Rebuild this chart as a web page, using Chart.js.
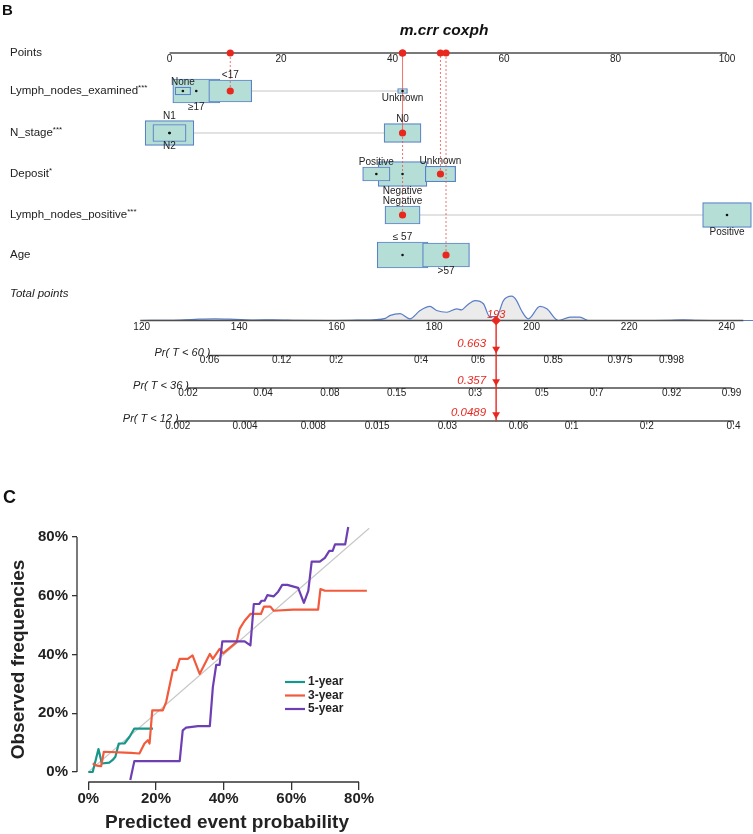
<!DOCTYPE html>
<html>
<head>
<meta charset="utf-8">
<script src="https://cdn.jsdelivr.net/npm/chart.js@4.4.0/dist/chart.umd.min.js"></script>
<style>
  html, body { margin: 0; padding: 0; background: #fff; }
  #wrap { position: relative; width: 753px; height: 834px; }
  .box { position: absolute; left: 0; }
</style>
</head>
<body>
<div id="wrap">
  <div class="box" style="top:0;width:753px;height:445px"><canvas id="nomoChart"></canvas></div>
  <div class="box" style="top:445px;width:380px;height:389px"><canvas id="calibChart"></canvas></div>
</div>
<script>
const FONT = "'Liberation Sans', Arial, Helvetica, sans-serif";
Chart.defaults.font.family = FONT;
Chart.defaults.color = '#222';

// ---------- panel B: nomogram values ----------
const pointsTicks = [0, 20, 40, 60, 80, 100];

const varNames = ['Lymph_nodes_examined', 'N_stage', 'Deposit', 'Lymph_nodes_positive', 'Age'];
const varStars = ['***', '***', '*', '***', ''];

const lneLevels = ['None', '≥17', '<17', 'Unknown'];
const lnePoints = [2.4, 4.8, 10.9, 41.8];
const lneShare = [0.055, 0.50, 0.42, 0.022];

const nLevels = ['N1', 'N2', 'N0'];
const nPoints = [0, 0, 41.8];
const nShare = [0.54, 0.25, 0.31];

const depLevels = ['Positive', 'Negative', 'Unknown'];
const depPoints = [37.1, 41.8, 48.6];
const depShare = [0.17, 0.54, 0.21];

const lnpLevels = ['Negative', 'Positive'];
const lnpPoints = [41.8, 100];
const lnpShare = [0.28, 0.54];

const ageLevels = ['≤ 57', '>57'];
const agePoints = [41.8, 49.6];
const ageShare = [0.585, 0.50];

// the patient marked in red
const chosenLevels = ['<17', 'N0', 'Unknown', 'Negative', '>57'];

const totalTicks = [120, 140, 160, 180, 200, 220, 240];
const totalSpan = [119.7, 243.4];
const densityX = [120, 126, 131, 135, 139, 143, 147, 152, 158, 163, 167.5, 170, 171, 173, 175, 177.1, 179.1, 180.5, 182.6, 184.6, 185.6, 186.7, 188.4, 190.1, 191.4, 192.8, 194.2, 195.9, 196.9, 197.9, 199.3, 201.7, 203.1, 205.5, 207.9, 209.9, 211.6, 216, 222, 228, 231, 234, 240, 246];
const densityY = [0, 0.01, 0.05, 0.07, 0.05, 0.02, 0.03, 0.01, 0, 0.01, 0.03, 0.09, 0.21, 0.28, 0.07, 0.41, 0.58, 0.41, 0.34, 0.48, 0.44, 0.62, 0.82, 0.69, 0.16, 0.16, 0.82, 1.0, 0.82, 0.41, 0.07, 0.58, 0.48, 0, 0.14, 0.14, 0, 0, 0, 0.01, 0.03, 0.01, 0, 0];

const prNames = ['Pr( T < 60 )', 'Pr( T < 36 )', 'Pr( T < 12 )'];
const pr60Labels = ['0.06', '0.12', '0.2', '0.4', '0.6', '0.85', '0.975', '0.998'];
const pr60At = [133.9, 148.7, 159.9, 177.3, 189.0, 204.4, 218.1, 228.7];
const pr36Labels = ['0.02', '0.04', '0.08', '0.15', '0.3', '0.5', '0.7', '0.92', '0.99'];
const pr36At = [129.5, 144.9, 158.6, 172.3, 188.4, 202.1, 213.3, 228.7, 241.0];
const pr12Labels = ['0.002', '0.004', '0.008', '0.015', '0.03', '0.06', '0.1', '0.2', '0.4'];
const pr12At = [127.4, 141.2, 155.2, 168.3, 182.7, 197.3, 208.2, 223.6, 241.4];
const predProb = ['0.663', '0.357', '0.0489'];

// ---------- panel C: calibration values (percent) ----------
const calTicks = [0, 20, 40, 60, 80];
const diagX = [0, 83];
const diagY = [0, 83];
const oneYearX = [0, 1.3, 3.0, 4.0, 6.2, 7.2, 8.0, 9.0, 10.7, 12.2, 13.6, 19.1];
const oneYearY = [0, 0, 7.8, 2.9, 3.2, 4.1, 5.2, 9.7, 9.7, 12.0, 14.8, 14.8];
const threeYearX = [1.3, 2.5, 3.8, 4.6, 12.6, 15.1, 16.6, 17.6, 18.1, 18.9, 22.0, 23.0, 25.0, 26.0, 27.0, 29.4, 30.8, 32.9, 35.9, 36.8, 38.8, 39.8, 43.8, 44.7, 46.2, 47.9, 51.0, 51.9, 53.8, 54.8, 60.5, 67.9, 68.6, 69.9, 82.3];
const threeYearY = [2.9, 2.2, 2.0, 6.9, 6.5, 6.3, 9.7, 10.8, 9.7, 21.0, 21.0, 23.8, 34.7, 34.7, 38.5, 38.5, 39.7, 33.4, 40.2, 38.5, 41.9, 40.4, 44.2, 48.7, 51.5, 53.8, 53.8, 56.3, 56.3, 54.9, 55.3, 55.3, 62.3, 61.7, 61.7];
const fiveYearX = [12.4, 13.6, 27.0, 27.9, 28.9, 32.4, 35.9, 36.8, 37.8, 38.8, 39.6, 46.2, 47.9, 48.9, 50.5, 51.2, 52.1, 52.9, 54.8, 56.1, 57.3, 58.8, 62.0, 63.7, 65.0, 66.0, 68.4, 69.9, 71.2, 72.2, 72.9, 75.9, 76.8];
const fiveYearY = [-2.7, 3.7, 3.7, 14.2, 15.1, 15.6, 15.6, 28.9, 36.5, 36.5, 44.5, 44.5, 43.1, 57.2, 57.2, 58.3, 58.3, 60.2, 59.8, 61.4, 63.7, 63.7, 62.7, 57.6, 61.7, 71.6, 71.6, 72.9, 75.3, 75.3, 77.5, 77.5, 83.4];
const seriesNames = ['1-year', '3-year', '5-year'];

// ---------- layout ----------
const B_W = 753, B_H = 445;
const PT_ZERO_PX = 169.5, PX_PER_PT = 5.575;
const TOT_120_PX = 141.7, PX_PER_TOT = 4.875;
const ROW_Y = { title: 31, points: 53, vars: [91, 133, 174, 215, 255], totalLabel: 294, total: 320.5, pr: [355.5, 388, 421] };
const PROB_DY = [-12, -7.5, -8.5];
const DENS_PX = 24.3;
const BOX_K = 34, BOX_ASPECT = 1.95;
const RED = '#e8281f';

const variables = [
    { levels: lneLevels, pts: lnePoints, share: lneShare },
    { levels: nLevels, pts: nPoints, share: nShare },
    { levels: depLevels, pts: depPoints, share: depShare },
    { levels: lnpLevels, pts: lnpPoints, share: lnpShare },
    { levels: ageLevels, pts: agePoints, share: ageShare }
];
const prAxes = [
    { at: pr60At, labels: pr60Labels },
    { at: pr36At, labels: pr36Labels },
    { at: pr12At, labels: pr12Labels }
];

const chosenPoints = variables.map((v, i) => v.pts[v.levels.indexOf(chosenLevels[i])]);
const totalScore = chosenPoints.reduce((a, b) => a + b, 0);

// datasets in painting order (first = bottom)
const paint = [];
paint.push({
    type: 'line', xAxisID: 'xt', yAxisID: 'yd',
    data: densityX.map((x, i) => ({ x, y: densityY[i] })),
    borderColor: '#5b7ec8', borderWidth: 1.2, backgroundColor: '#ebebeb',
    fill: 'origin', pointRadius: 0, cubicInterpolationMode: 'monotone'
});
variables.forEach((v, i) => {
    paint.push({
        type: 'line', xAxisID: 'x', yAxisID: 'y',
        data: [{ x: Math.min(...v.pts), y: ROW_Y.vars[i] }, { x: Math.max(...v.pts), y: ROW_Y.vars[i] }],
        borderColor: '#d9d9d9', borderWidth: 1.5, pointRadius: 0
    });
});
variables.forEach((v, i) => {
    const idx = v.levels.map((_, j) => j).sort((a, b) => v.share[b] - v.share[a]);
    idx.forEach(j => {
        const h = BOX_K * Math.sqrt(v.share[j]);
        const half = h * BOX_ASPECT / 2 / PX_PER_PT;
        paint.push({
            type: 'bar', indexAxis: 'y', grouped: false, xAxisID: 'x', yAxisID: 'y',
            data: [{ x: [v.pts[j] - half, v.pts[j] + half], y: ROW_Y.vars[i] }],
            barThickness: h, backgroundColor: '#b5dfd6', borderColor: '#5a80c8',
            borderWidth: 1.2, borderSkipped: false
        });
    });
});
chosenPoints.forEach((p, i) => {
    paint.push({
        type: 'line', xAxisID: 'x', yAxisID: 'y',
        data: [{ x: p, y: ROW_Y.vars[i] }, { x: p, y: ROW_Y.points }],
        borderColor: 'rgba(236,80,70,0.8)', borderWidth: 1, borderDash: [2, 2], pointRadius: 0
    });
});
const blackDots = [];
variables.forEach((v, i) => {
    v.levels.forEach((lv, j) => {
        if (lv !== chosenLevels[i]) blackDots.push({ x: v.pts[j], y: ROW_Y.vars[i] });
    });
});
paint.push({
    type: 'scatter', xAxisID: 'x', yAxisID: 'y', data: blackDots,
    pointRadius: 1.3, pointBackgroundColor: '#111', pointBorderWidth: 0
});
paint.push({
    type: 'scatter', xAxisID: 'x', yAxisID: 'y',
    data: chosenPoints.map((p, i) => ({ x: p, y: ROW_Y.vars[i] })).concat(chosenPoints.map(p => ({ x: p, y: ROW_Y.points }))),
    pointRadius: 3.6, pointBackgroundColor: RED, pointBorderWidth: 0
});
paint.push({
    type: 'line', xAxisID: 'xt', yAxisID: 'y',
    data: [{ x: totalScore, y: ROW_Y.total }, { x: totalScore, y: ROW_Y.pr[2] }],
    borderColor: RED, borderWidth: 1.4, pointRadius: 0
});
paint.push({
    type: 'scatter', xAxisID: 'xt', yAxisID: 'y',
    data: ROW_Y.pr.map(y => ({ x: totalScore, y: y - 6.5 })),
    pointStyle: 'triangle', pointRotation: 180, pointRadius: 4.5,
    pointBackgroundColor: RED, pointBorderWidth: 0
});
paint.push({
    type: 'scatter', xAxisID: 'xt', yAxisID: 'y',
    data: [{ x: totalScore, y: ROW_Y.total }],
    pointStyle: 'rectRot', pointRadius: 4.8, pointBackgroundColor: RED, pointBorderWidth: 0
});
paint.forEach((d, i) => { d.order = paint.length - i; });

function axisLine(ctx, x1, x2, y) {
    ctx.strokeStyle = '#4d4d4d';
    ctx.lineWidth = 1.4;
    ctx.beginPath();
    ctx.moveTo(x1, y);
    ctx.lineTo(x2, y);
    ctx.stroke();
}

const nomoDecor = {
    id: 'nomoDecor',
    beforeDatasetsDraw(chart) {
        const { ctx, scales: { x, xt, y } } = chart;
        ctx.save();
        ctx.fillStyle = '#111';
        ctx.textBaseline = 'middle';
        ctx.textAlign = 'left';
        ctx.font = 'bold 15px ' + FONT;
        ctx.fillText('B', 2, 11);
        ctx.textAlign = 'center';
        ctx.font = 'italic bold 15.5px ' + FONT;
        ctx.fillText('m.crr coxph', 444, ROW_Y.title);

        // row labels
        ctx.textAlign = 'left';
        ctx.fillStyle = '#222';
        ctx.font = '11.5px ' + FONT;
        ctx.fillText('Points', 10, ROW_Y.points);
        varNames.forEach((name, i) => {
            ctx.font = '11.5px ' + FONT;
            ctx.fillText(name, 10, ROW_Y.vars[i]);
            const w = ctx.measureText(name).width;
            ctx.font = '8px ' + FONT;
            ctx.fillText(varStars[i], 10 + w, ROW_Y.vars[i] - 3);
        });
        ctx.font = 'italic 11.5px ' + FONT;
        ctx.fillText('Total points', 10, ROW_Y.totalLabel);

        // points axis
        const py = y.getPixelForValue(ROW_Y.points);
        axisLine(ctx, x.getPixelForValue(pointsTicks[0]), x.getPixelForValue(pointsTicks[pointsTicks.length - 1]), py);
        ctx.font = '10px ' + FONT;
        ctx.textAlign = 'center';
        pointsTicks.forEach(v => ctx.fillText(String(v), x.getPixelForValue(v), py + 5.8));

        // probability axes
        prAxes.forEach((ax, k) => {
            const ly = y.getPixelForValue(ROW_Y.pr[k]);
            const first = xt.getPixelForValue(ax.at[0]);
            axisLine(ctx, first, xt.getPixelForValue(ax.at[ax.at.length - 1]), ly);
            ctx.lineWidth = 1;
            ctx.font = '10px ' + FONT;
            ctx.textAlign = 'center';
            ax.at.forEach((v, i) => {
                const px = xt.getPixelForValue(v);
                ctx.beginPath();
                ctx.moveTo(px, ly);
                ctx.lineTo(px, ly + 3.5);
                ctx.stroke();
                ctx.fillText(ax.labels[i], px, ly + 4.8);
            });
            ctx.font = 'italic 11px ' + FONT;
            ctx.textAlign = 'right';
            ctx.fillText(prNames[k], first + 1, ly - 2.5);
        });
        ctx.restore();
    },
    afterDatasetDraw(chart, args) {
        if (args.index !== 0) return;
        const { ctx, scales: { xt, y } } = chart;
        ctx.save();
        const ty = y.getPixelForValue(ROW_Y.total);
        axisLine(ctx, xt.getPixelForValue(totalSpan[0]), xt.getPixelForValue(totalSpan[1]), ty);
        ctx.fillStyle = '#222';
        ctx.font = '10px ' + FONT;
        ctx.textAlign = 'center';
        ctx.textBaseline = 'middle';
        totalTicks.forEach(v => ctx.fillText(String(v), xt.getPixelForValue(v), ty + 6.3));
        ctx.restore();
    },
    afterDatasetsDraw(chart) {
        const { ctx, scales: { x, xt, y } } = chart;
        ctx.save();
        ctx.fillStyle = '#222';
        ctx.font = '10px ' + FONT;
        ctx.textAlign = 'center';
        ctx.textBaseline = 'middle';
        variables.forEach((v, i) => {
            const cy = y.getPixelForValue(ROW_Y.vars[i]);
            v.levels.forEach((lv, j) => {
                const h = BOX_K * Math.sqrt(v.share[j]);
                const ly = j % 2 === 0 ? cy - h / 2 - 4.5 : cy + h / 2 + 4.5;
                ctx.fillText(lv, x.getPixelForValue(v.pts[j]), ly);
            });
        });
        const tx = xt.getPixelForValue(totalScore);
        ctx.fillStyle = RED;
        ctx.font = 'italic 11px ' + FONT;
        ctx.fillText(String(Math.round(totalScore)), tx, y.getPixelForValue(ROW_Y.total) - 5.5);
        ctx.font = 'italic 11.5px ' + FONT;
        ctx.textAlign = 'right';
        predProb.forEach((p, k) => {
            ctx.fillText(p, tx - 10, y.getPixelForValue(ROW_Y.pr[k]) + PROB_DY[k]);
        });
        ctx.restore();
    }
};

new Chart(document.getElementById('nomoChart'), {
    type: 'scatter',
    data: { datasets: paint },
    options: {
        responsive: true,
        maintainAspectRatio: false,
        animation: false,
        events: [],
        layout: { autoPadding: false, padding: 0 },
        plugins: { legend: { display: false }, tooltip: { enabled: false } },
        scales: {
            x: { type: 'linear', display: false, offset: false, min: -PT_ZERO_PX / PX_PER_PT, max: (B_W - PT_ZERO_PX) / PX_PER_PT },
            xt: { type: 'linear', display: false, offset: false, axis: 'x', min: 120 - TOT_120_PX / PX_PER_TOT, max: 120 + (B_W - TOT_120_PX) / PX_PER_TOT },
            y: { type: 'linear', display: false, offset: false, min: 0, max: B_H, reverse: true },
            yd: { type: 'linear', display: false, offset: false, axis: 'y', min: -(B_H - ROW_Y.total) / DENS_PX, max: ROW_Y.total / DENS_PX }
        }
    },
    plugins: [nomoDecor]
});

// ---------- panel C ----------
const LEGEND = { x: 285, y: 237, dy: 13.5, len: 20 };
const seriesColors = ['#17968c', '#f25a3c', '#6d3fb2'];

function pairs(xs, ys) { return xs.map((x, i) => ({ x, y: ys[i] })); }

const calibDecor = {
    id: 'calibDecor',
    beforeDatasetsDraw(chart) {
        const { ctx, chartArea, scales: { x, y } } = chart;
        ctx.save();
        ctx.strokeStyle = '#333';
        ctx.lineWidth = 1.3;
        ctx.beginPath();
        ctx.moveTo(x.getPixelForValue(calTicks[0]), chartArea.bottom);
        ctx.lineTo(x.getPixelForValue(calTicks[calTicks.length - 1]), chartArea.bottom);
        ctx.moveTo(chartArea.left, y.getPixelForValue(calTicks[0]));
        ctx.lineTo(chartArea.left, y.getPixelForValue(calTicks[calTicks.length - 1]));
        ctx.stroke();
        ctx.fillStyle = '#111';
        ctx.font = 'bold 18px ' + FONT;
        ctx.textBaseline = 'middle';
        ctx.fillText('C', 3, 53);
        ctx.restore();
    },
    afterDatasetsDraw(chart) {
        const { ctx } = chart;
        ctx.save();
        ctx.font = 'bold 12px ' + FONT;
        ctx.textBaseline = 'middle';
        ctx.fillStyle = '#222';
        seriesNames.forEach((name, i) => {
            const ly = LEGEND.y + i * LEGEND.dy;
            ctx.strokeStyle = seriesColors[i];
            ctx.lineWidth = 2.2;
            ctx.beginPath();
            ctx.moveTo(LEGEND.x, ly);
            ctx.lineTo(LEGEND.x + LEGEND.len, ly);
            ctx.stroke();
            ctx.fillText(name, LEGEND.x + LEGEND.len + 3, ly);
        });
        ctx.restore();
    }
};

const pctTicks = axis => { axis.ticks = calTicks.map(v => ({ value: v })); };

new Chart(document.getElementById('calibChart'), {
    type: 'scatter',
    data: {
        datasets: [
            { label: 'reference', data: pairs(diagX, diagY), borderColor: '#c8c8c8', borderWidth: 1.2, order: 4 },
            { label: seriesNames[0], data: pairs(oneYearX, oneYearY), borderColor: seriesColors[0], borderWidth: 2.2, order: 3 },
            { label: seriesNames[1], data: pairs(threeYearX, threeYearY), borderColor: seriesColors[1], borderWidth: 2.2, order: 2 },
            { label: seriesNames[2], data: pairs(fiveYearX, fiveYearY), borderColor: seriesColors[2], borderWidth: 2.2, order: 1 }
        ].map(d => Object.assign(d, { showLine: true, pointRadius: 0, clip: false, borderJoinStyle: 'round' }))
    },
    options: {
        responsive: true,
        maintainAspectRatio: false,
        animation: false,
        events: [],
        layout: { autoPadding: false, padding: { left: 3, right: 3, top: 92, bottom: 0 } },
        plugins: { legend: { display: false }, tooltip: { enabled: false } },
        scales: {
            x: {
                type: 'linear', min: -3.34, max: 85.3,
                afterBuildTicks: pctTicks,
                afterFit: s => { s.height = 52; },
                border: { display: false },
                grid: { display: true, drawOnChartArea: false, drawTicks: true, tickLength: 8, color: '#333', lineWidth: 1.3 },
                ticks: { padding: 0, autoSkip: false, maxRotation: 0, color: '#222', font: { size: 15, weight: 'bold' }, callback: v => v + '%' },
                title: { display: true, text: 'Predicted event probability', color: '#222', font: { size: 19, weight: 'bold' }, padding: { top: 0, bottom: 0 } }
            },
            y: {
                type: 'linear', min: -3.4, max: 80,
                afterBuildTicks: pctTicks,
                afterFit: s => { s.width = 74; },
                border: { display: false },
                grid: { display: true, drawOnChartArea: false, drawTicks: true, tickLength: 5, color: '#333', lineWidth: 1.3 },
                ticks: { padding: 4, autoSkip: false, color: '#222', font: { size: 15, weight: 'bold' }, callback: v => v + '%' },
                title: { display: true, text: 'Observed frequencies', color: '#222', font: { size: 19, weight: 'bold' }, padding: { top: 4, bottom: 0 } }
            }
        }
    },
    plugins: [calibDecor]
});
</script>
</body>
</html>
